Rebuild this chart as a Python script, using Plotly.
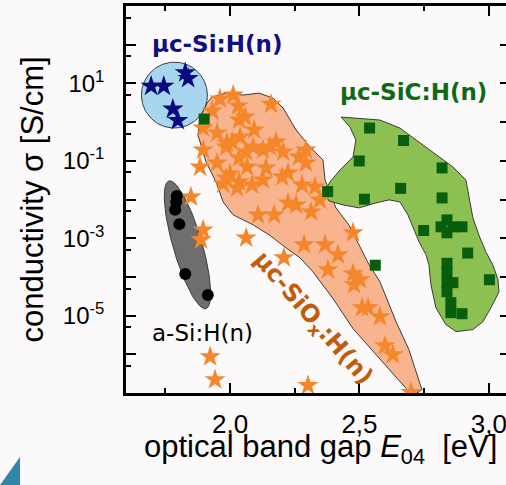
import numpy as np
import plotly.graph_objects as go

# ---------------- data (E04 in eV, conductivity in S/cm) ----------------
# orange stars: uc-SiOx:H(n)
siox_x = [1.961, 2.012, 2.031, 2.158, 1.931, 2.058, 2.035, 1.896, 1.950, 2.093,
          2.039, 1.988, 1.896, 2.008, 1.985, 2.062, 2.089, 2.127, 2.154, 2.178,
          2.205, 2.266, 2.293, 2.293, 1.950, 1.884, 2.035, 2.066, 2.139, 2.000,
          1.985, 2.224, 2.201, 2.035, 1.973, 2.027, 2.085, 2.127, 2.278, 2.328,
          1.849, 2.347, 2.224, 2.255, 2.313, 2.170, 2.108, 1.896, 1.888, 2.062,
          2.286, 2.367, 2.475, 2.417, 2.208, 2.378, 2.475, 2.502, 2.479, 2.510,
          2.533, 2.579, 2.598, 2.629, 2.301, 2.699, 1.923, 1.942]
siox_y = [3.94, 4.99, 2.60, 2.92, 1.93, 1.35, 1.13, 0.703, 0.522, 0.624,
          0.412, 0.288, 0.190, 0.306, 0.227, 0.169, 0.227, 0.190, 0.227, 0.306,
          0.169, 0.126, 0.190, 0.0879, 0.0879, 0.0694, 0.118, 0.0694, 0.0653, 0.0458,
          0.0361, 0.0486, 0.0383, 0.0284, 0.0253, 0.0199, 0.0238, 0.0321, 0.0238, 0.0211,
          0.0117, 0.00977, 0.00818, 0.00727, 0.00479, 0.00401, 0.00401, 0.00164, 9.08e-4, 1.02e-3,
          6.75e-4, 6.75e-4, 1.38e-3, 3.72e-4, 3.12e-4, 1.53e-4, 1.21e-4, 8.45e-5, 6.28e-5, 1.60e-5,
          1.60e-5, 9.4e-6, 1.67e-6, 9.8e-7, 1.56e-7, 1.03e-7, 8.7e-7, 2.22e-7]

# navy stars: uc-Si:H(n)
si_x = [1.695, 1.744, 1.827, 1.838, 1.779, 1.798]
si_y = [8.5, 8.5, 18.8, 13.5, 2.17, 1.11]

# black circles: a-Si:H(n)
asi_x = [1.794, 1.792, 1.788, 1.804, 1.827, 1.914]
asi_y = [0.0124, 0.00867, 0.0054, 0.00231, 1.19e-4, 3.4e-5]

# green squares: uc-SiC:H(n)
sic_x = [1.900, 2.539, 2.670, 2.499, 2.819, 2.377, 2.659, 2.519, 2.819, 2.838,
         2.815, 2.861, 2.896, 2.838, 2.748, 2.918, 2.561, 2.838, 2.838, 2.838,
         2.861, 2.838, 3.002, 2.853, 2.853, 2.896]
sic_y = [1.20, 0.703, 0.335, 0.099, 0.0655, 0.016, 0.0194, 0.0102, 0.0110, 0.00298,
         0.00197, 0.00197, 0.00197, 0.00138, 0.00158, 4.13e-4, 2.0e-4, 2.25e-4, 1.28e-4, 7.1e-5,
         7.1e-5, 4.15e-5, 8.45e-5, 2.16e-5, 1.19e-5, 1.12e-5]

# outline of the uc-SiOx:H(n) region
siox_area_x = [1.911, 1.930, 1.985, 2.050, 2.112, 2.166, 2.205, 2.255, 2.309, 2.359,
               2.367, 2.409, 2.459, 2.498, 2.537, 2.579, 2.641, 2.691, 2.718, 2.741,
               2.726, 2.695, 2.680, 2.579, 2.475, 2.398, 2.320, 2.270, 2.216, 2.151,
               2.089, 2.012, 1.973, 1.946, 1.907, 1.876, 1.884]
siox_area_y = [3.10, 4.44, 5.62, 4.99, 5.62, 4.18, 2.31, 0.625, 0.227, 0.105,
               0.0321, 6.08e-3, 2.21e-3, 6.76e-4, 2.06e-4, 7.5e-5, 6.98e-6, 1.32e-6, 3.58e-7, 1.23e-7,
               1.03e-7, 1.03e-7, 1.31e-7, 7.76e-7, 4.6e-6, 2.74e-5, 1.36e-4, 3.12e-4, 5.65e-4, 1.22e-3,
               2.21e-3, 4.01e-3, 8.69e-3, 0.0284, 0.0933, 0.465, 1.27]

# outline of the uc-SiC:H(n) region
sic_area_x = [2.429, 2.475, 2.579, 2.656, 2.772, 2.861, 2.911, 2.927, 2.938, 2.961,
              2.988, 3.015, 3.035, 3.039, 3.008, 2.977, 2.938, 2.873, 2.834, 2.795,
              2.776, 2.768, 2.757, 2.730, 2.707, 2.687, 2.656, 2.614, 2.564, 2.498,
              2.436, 2.382, 2.363, 2.386, 2.425, 2.475, 2.486, 2.463]
sic_area_y = [1.35, 1.27, 1.13, 0.703, 0.191, 0.0693, 0.0321, 8.69e-3, 3.36e-3, 1.22e-3,
              4.46e-4, 2.06e-4, 8.45e-5, 4.15e-5, 1.60e-5, 6.98e-6, 4.35e-6, 3.85e-6, 5.85e-6, 1.60e-5,
              6.28e-5, 2.06e-4, 3.73e-4, 8.07e-4, 1.85e-3, 4.01e-3, 8.69e-3, 9.77e-3, 8.18e-3, 6.08e-3,
              7.26e-3, 9.2e-3, 0.0157, 0.0284, 0.0581, 0.126, 0.345, 0.746]

# circle around uc-Si:H(n): centre (eV, log10 S/cm) and radii
si_circle = dict(cx=1.785, cy=0.698, rx=0.1274, ry=0.851)
# ellipse around a-Si:H(n): centre and two half-axis vectors (eV, decades)
asi_ellipse = dict(cx=1.8355, cy=-3.1705, ax=0.0715, ay=-1.650, bx=0.054, by=0.104)

x_tickvals = [2.0, 2.5, 3.0]
x_ticktext = ["2,0", "2,5", "3,0"]
x_minor = [1.75, 2.25, 2.75]
y_exponents = list(range(-7, 4))
y_tickvals = [10.0 ** e for e in y_exponents]
y_ticktext = [("10<sup>%d</sup>" % e) if e % 2 != 0 and -7 < e < 3 else "" for e in y_exponents]
y_minor = [5 * 10.0 ** e for e in range(-7, 3)]

# ---------------- figure ----------------
fig = go.Figure()

def area(x, y, fill):
    return go.Scatter(x=x + [x[0]], y=y + [y[0]], mode="lines", fill="toself",
                      fillcolor=fill, line=dict(color="#3c3c3c", width=1),
                      hoverinfo="skip", showlegend=False)

t = np.linspace(0, 2 * np.pi, 160)
circ_x = si_circle["cx"] + si_circle["rx"] * np.cos(t)
circ_y = 10 ** (si_circle["cy"] + si_circle["ry"] * np.sin(t))
e = asi_ellipse
ell_x = e["cx"] + e["ax"] * np.cos(t) + e["bx"] * np.sin(t)
ell_y = 10 ** (e["cy"] + e["ay"] * np.cos(t) + e["by"] * np.sin(t))

fig.add_trace(area(siox_area_x, siox_area_y, "#f8b48e"))
fig.add_trace(area(sic_area_x, sic_area_y, "#8cc152"))
fig.add_trace(area(list(ell_x), list(ell_y), "#6e6e6e"))
fig.add_trace(area(list(circ_x), list(circ_y), "#a8d6ef"))

fig.add_trace(go.Scatter(x=siox_x, y=siox_y, mode="markers", showlegend=False,
                         marker=dict(symbol="star", size=16, color="#f5862a", line=dict(width=0))))
fig.add_trace(go.Scatter(x=si_x, y=si_y, mode="markers", showlegend=False,
                         marker=dict(symbol="star", size=16, color="#0a0a80", line=dict(width=0))))
fig.add_trace(go.Scatter(x=asi_x, y=asi_y, mode="markers", showlegend=False,
                         marker=dict(symbol="circle", size=12, color="#000000", line=dict(width=0))))
fig.add_trace(go.Scatter(x=sic_x, y=sic_y, mode="markers", showlegend=False,
                         marker=dict(symbol="square", size=11, color="#075e0c", line=dict(width=0))))
# dummy trace so the right-hand tick axis is drawn
fig.add_trace(go.Scatter(x=[None], y=[None], yaxis="y2", showlegend=False, hoverinfo="skip"))

tickfont = dict(family="Liberation Sans, Arial", size=24, color="black")
fig.update_layout(
    width=506, height=485,
    margin=dict(l=126, r=0, t=6, b=92),
    paper_bgcolor="#fbf9f9", plot_bgcolor="#fbf9f9",
    xaxis=dict(range=[1.598, 3.066], tickmode="array", tickvals=x_tickvals, ticktext=x_ticktext,
               ticks="inside", ticklen=10, tickwidth=2, tickcolor="black",
               showline=True, linewidth=2.5, linecolor="black", mirror="ticks",
               minor=dict(tickmode="array", tickvals=x_minor, ticks="inside", ticklen=5,
                          tickwidth=2, tickcolor="black", showgrid=False),
               showgrid=False, zeroline=False, ticklabelstandoff=6, ticklabeloverflow="allow",
               tickfont=dict(family="Liberation Sans, Arial", size=26, color="black")),
    yaxis=dict(type="log", range=[-7, 3], tickmode="array", tickvals=y_tickvals, ticktext=y_ticktext,
               ticks="inside", ticklen=10, tickwidth=2, tickcolor="black",
               showline=True, linewidth=2.5, linecolor="black",
               minor=dict(tickmode="array", tickvals=y_minor, ticks="inside", ticklen=5,
                          tickwidth=2, tickcolor="black", showgrid=False),
               showgrid=False, zeroline=False, ticklabelstandoff=14, tickfont=tickfont),
    yaxis2=dict(type="log", range=[-7, 3], overlaying="y", side="right", tickmode="array",
                tickvals=y_tickvals, ticks="inside", ticklen=6, tickwidth=2, tickcolor="black",
                showticklabels=False, showline=False, showgrid=False, zeroline=False),
)

ann_font = "DejaVu Sans"
def label(x, y, text, size, color, family=ann_font, angle=0, xref="x", yref="y"):
    fig.add_annotation(x=x, y=y, xref=xref, yref=yref, text=text, showarrow=False,
                       xanchor="center", yanchor="middle", textangle=angle,
                       font=dict(family=family, size=size, color=color))

label(1.950, 2.014, "<b>µc-Si:H(n)</b>", 23, "#0f0f85")
label(2.708, 0.788, "<b>µc-SiC:H(n)</b>", 23, "#0e6a12")
label(1.892, -5.441, "a-Si:H(n)", 23, "black")
label(2.317, -5.079, "<b>µc-SiO<sub>x</sub>:H(n)</b>", 24, "#c15c0d", angle=49)

# axis titles
label((32.5 - 126) / 380, (393 - 200) / 387, "conductivity σ [S/cm]", 31, "black",
      family="Liberation Sans, Arial", angle=-90, xref="paper", yref="paper")
label((320 - 126) / 380, (393 - 449) / 387, "optical band gap <i>E</i><sub>04</sub>\u00a0\u00a0[eV]", 31,
      "black", family="Liberation Sans, Arial", xref="paper", yref="paper")

# small decorative triangle in the lower-left corner
fig.add_shape(type="path", xref="paper", yref="paper",
              path="M %f %f L %f %f L %f %f Z" % (-126 / 380, -92 / 387, 20 / 380 - 126 / 380, -92 / 387,
                                                   20 / 380 - 126 / 380, (393 - 457) / 387),
              fillcolor="#2f86a8", line=dict(width=0))

fig.write_html("out.html", config={"displayModeBar": False},
               post_script="document.body.style.margin='0';document.body.style.overflow='hidden';")
